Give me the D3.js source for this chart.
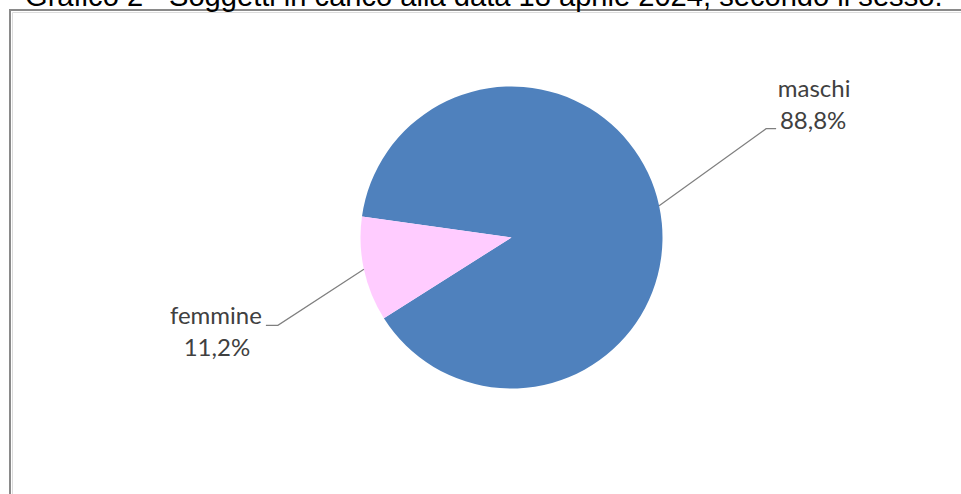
<!DOCTYPE html>
<html><head><meta charset="utf-8">
<script src="https://cdn.jsdelivr.net/npm/d3@7"></script>
<style>html,body{margin:0;padding:0;background:#fff;overflow:hidden}</style>
</head><body>
<svg id="c" width="961" height="494"></svg>
<script>
const titleText = "Grafico 2 - Soggetti in carico alla data 18 aprile 2024, secondo il sesso.";
const categories = ["maschi", "femmine"];
const values = [88.8, 11.2];
const valueLabels = ["88,8%", "11,2%"];
const colors = ["#4F81BD", "#FFCCFF"];

const svg = d3.select("#c");
const W = 961, H = 494;

// frame
svg.append("rect").attr("x", 10).attr("y", 10).attr("width", 1000).attr("height", 1000)
  .attr("fill", "#fff").attr("stroke", "#8a8a8a").attr("stroke-width", 2);
svg.append("path").attr("d", "M12.5,1000V12.5H1000").attr("fill","none").attr("stroke","#dcdcdc").attr("stroke-width",1);

// title (cut at top)
const t = svg.append("text").attr("x", 25).attr("y", 5.5)
  .attr("font-family", "Liberation Sans, Arial, sans-serif").attr("font-size", 24)
  .attr("fill", "#000").text(titleText);
const tl = t.node().getComputedTextLength();
t.attr("font-size", 24 * 918 / tl);

// pie
const cx = 511.5, cy = 237.5, r = 151;
const start = -82 * Math.PI / 180;
const pie = d3.pie().sort(null).startAngle(start).endAngle(start + 2 * Math.PI);
const arcs = pie(values);
const arc = d3.arc().innerRadius(0).outerRadius(r);
const g = svg.append("g").attr("transform", `translate(${cx},${cy})`);
g.selectAll("path.slice").data(arcs).enter().append("path")
  .attr("class", "slice").attr("d", arc).attr("fill", (d, i) => colors[i]);

// labels with leader lines
const font = "Lato, 'Open Sans', sans-serif";
const fs = 24;
arcs.forEach((d, i) => {
  const a = (d.startAngle + d.endAngle) / 2;
  const px = Math.sin(a) * r, py = -Math.cos(a) * r;
  const right = px > 0;
  // elbow point and label anchor offsets
  const ex = right ? px + 107 : px - 86;
  const ey = right ? py - 77 : py + 56;
  const hx = right ? ex + 10 : ex - 12;
  g.append("path").attr("d", `M${px},${py}L${ex},${ey}L${hx},${ey}`)
    .attr("fill", "none").attr("stroke", "#7f7f7f").attr("stroke-width", 1.2);
  const lx = right ? hx + 38 : hx - 50;
  const ly1 = right ? ey - 31.5 : ey - 1.5;
  const txt = g.append("text").attr("font-family", font).attr("font-size", fs)
    .attr("fill", "#404040").attr("text-anchor", "middle");
  txt.append("tspan").attr("x", lx).attr("y", ly1).text(categories[i]);
  txt.append("tspan").attr("x", right ? lx - 1 : lx + 1).attr("y", ly1 + 32).text(valueLabels[i]);
});
</script>
</body></html>
